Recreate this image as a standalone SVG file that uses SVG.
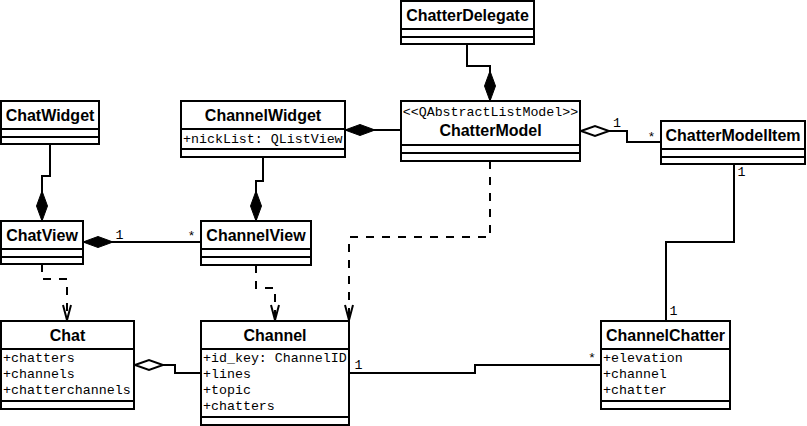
<svg xmlns="http://www.w3.org/2000/svg" width="807" height="426" viewBox="0 0 807 426">
<style>
.box{fill:#fff;stroke:#000;stroke-width:2}
.sep{stroke:#000;stroke-width:2;fill:none}
.title{font-family:"Liberation Sans",Arial,sans-serif;font-weight:bold;font-size:16px;text-anchor:middle;fill:#000}
.mono{font-family:"Liberation Mono","Courier New",monospace;font-size:13.3px;fill:#000}
.lbl{font-family:"Liberation Mono","Courier New",monospace;font-size:13.3px;fill:#000;text-anchor:middle}
.edge{fill:none;stroke:#000;stroke-width:2}
.dash{stroke-dasharray:8 8}
</style>
<defs>
<marker id="fdia" markerUnits="userSpaceOnUse" viewBox="-2 -8 34 16" refX="0" refY="0" markerWidth="34" markerHeight="16" orient="auto" overflow="visible">
<path d="M0,0 L15,-5.5 L30,0 L15,5.5 Z" fill="#000" stroke="#000" stroke-width="1"/>
</marker>
<marker id="hdia" markerUnits="userSpaceOnUse" viewBox="-2 -8 34 16" refX="0" refY="0" markerWidth="34" markerHeight="16" orient="auto" overflow="visible">
<path d="M1,0 L15,-5 L29,0 L15,5 Z" fill="#fff" stroke="#000" stroke-width="2"/>
</marker>
<marker id="open" markerUnits="userSpaceOnUse" viewBox="-18 -8 20 16" refX="0" refY="0" markerWidth="20" markerHeight="16" orient="auto" overflow="visible">
<path d="M-15,-4 L0,0 L-15,4" fill="none" stroke="#000" stroke-width="2"/>
</marker>
</defs>
<rect width="807" height="426" fill="#fff"/>

<g id="connectors">
<path class="edge" d="M490,101 V66 H467 V44" marker-start="url(#fdia)"/>
<path class="edge" d="M345,130 H401" marker-start="url(#fdia)"/>
<path class="edge" d="M580,131 H627 V142 H661" marker-start="url(#hdia)"/>
<path class="edge" d="M42,221 V176 H50 V144" marker-start="url(#fdia)"/>
<path class="edge" d="M256,221 V181 H263 V157" marker-start="url(#fdia)"/>
<path class="edge" d="M83,242 H201" marker-start="url(#fdia)"/>
<path class="edge dash" d="M42,264 V279 H67 V320" marker-end="url(#open)"/>
<path class="edge dash" d="M256,265 V288 H275 V320" marker-end="url(#open)"/>
<path class="edge dash" d="M490,161 V237 H349 V320" marker-end="url(#open)"/>
<path class="edge" d="M134,365 H175 V373 H201" marker-start="url(#hdia)"/>
<path class="edge" d="M349,373 H475 V365 H601"/>
<path class="edge" d="M734,164 V242 H666 V321"/>
<text class="lbl" x="617" y="127">1</text>
<text class="lbl" x="651.5" y="141">*</text>
<text class="lbl" x="119.5" y="239">1</text>
<text class="lbl" x="191.5" y="240">*</text>
<text class="lbl" x="741.5" y="176">1</text>
<text class="lbl" x="673.5" y="315">1</text>
<text class="lbl" x="358.5" y="369">1</text>
<text class="lbl" x="592" y="362">*</text>
</g>

<g id="ChatterDelegate">
<rect class="box" x="401" y="1" width="133" height="43"/>
<path class="sep" d="M401,29 H534 M401,37 H534"/>
<text class="title" x="467.5" y="21">ChatterDelegate</text>
</g>

<g id="ChatterModel">
<rect class="box" x="401" y="101" width="179" height="60"/>
<path class="sep" d="M401,145 H580 M401,153 H580"/>
<text class="mono" x="490.5" y="116" text-anchor="middle">&lt;&lt;QAbstractListModel&gt;&gt;</text>
<text class="title" x="490.5" y="136">ChatterModel</text>
</g>

<g id="ChatterModelItem">
<rect class="box" x="661" y="121" width="144" height="43"/>
<path class="sep" d="M661,149 H805 M661,157 H805"/>
<text class="title" x="733" y="141">ChatterModelItem</text>
</g>

<g id="ChatWidget">
<rect class="box" x="1" y="101" width="98" height="43"/>
<path class="sep" d="M1,129 H99 M1,137 H99"/>
<text class="title" x="50" y="121">ChatWidget</text>
</g>

<g id="ChannelWidget">
<rect class="box" x="181" y="101" width="164" height="56"/>
<path class="sep" d="M181,129 H345 M181,149 H345"/>
<text class="title" x="263" y="121">ChannelWidget</text>
<text class="mono" x="183" y="143">+nickList: QListView</text>
</g>

<g id="ChatView">
<rect class="box" x="1" y="221" width="82" height="43"/>
<path class="sep" d="M1,249 H83 M1,257 H83"/>
<text class="title" x="42" y="241">ChatView</text>
</g>

<g id="ChannelView">
<rect class="box" x="201" y="221" width="110" height="44"/>
<path class="sep" d="M201,249 H311 M201,257 H311"/>
<text class="title" x="256" y="241">ChannelView</text>
</g>

<g id="Chat">
<rect class="box" x="1" y="321" width="133" height="88"/>
<path class="sep" d="M1,349 H134 M1,401 H134"/>
<text class="title" x="67.5" y="341">Chat</text>
<text class="mono" x="3" y="362">+chatters</text>
<text class="mono" x="3" y="378">+channels</text>
<text class="mono" x="3" y="394">+chatterchannels</text>
</g>

<g id="Channel">
<rect class="box" x="201" y="321" width="148" height="104"/>
<path class="sep" d="M201,349 H349 M201,417 H349"/>
<text class="title" x="275" y="341">Channel</text>
<text class="mono" x="203" y="362">+id_key: ChannelID</text>
<text class="mono" x="203" y="378">+lines</text>
<text class="mono" x="203" y="394">+topic</text>
<text class="mono" x="203" y="410">+chatters</text>
</g>

<g id="ChannelChatter">
<rect class="box" x="601" y="321" width="129" height="88"/>
<path class="sep" d="M601,349 H730 M601,401 H730"/>
<text class="title" x="665.5" y="341">ChannelChatter</text>
<text class="mono" x="603" y="362">+elevation</text>
<text class="mono" x="603" y="378">+channel</text>
<text class="mono" x="603" y="394">+chatter</text>
</g>
</svg>
